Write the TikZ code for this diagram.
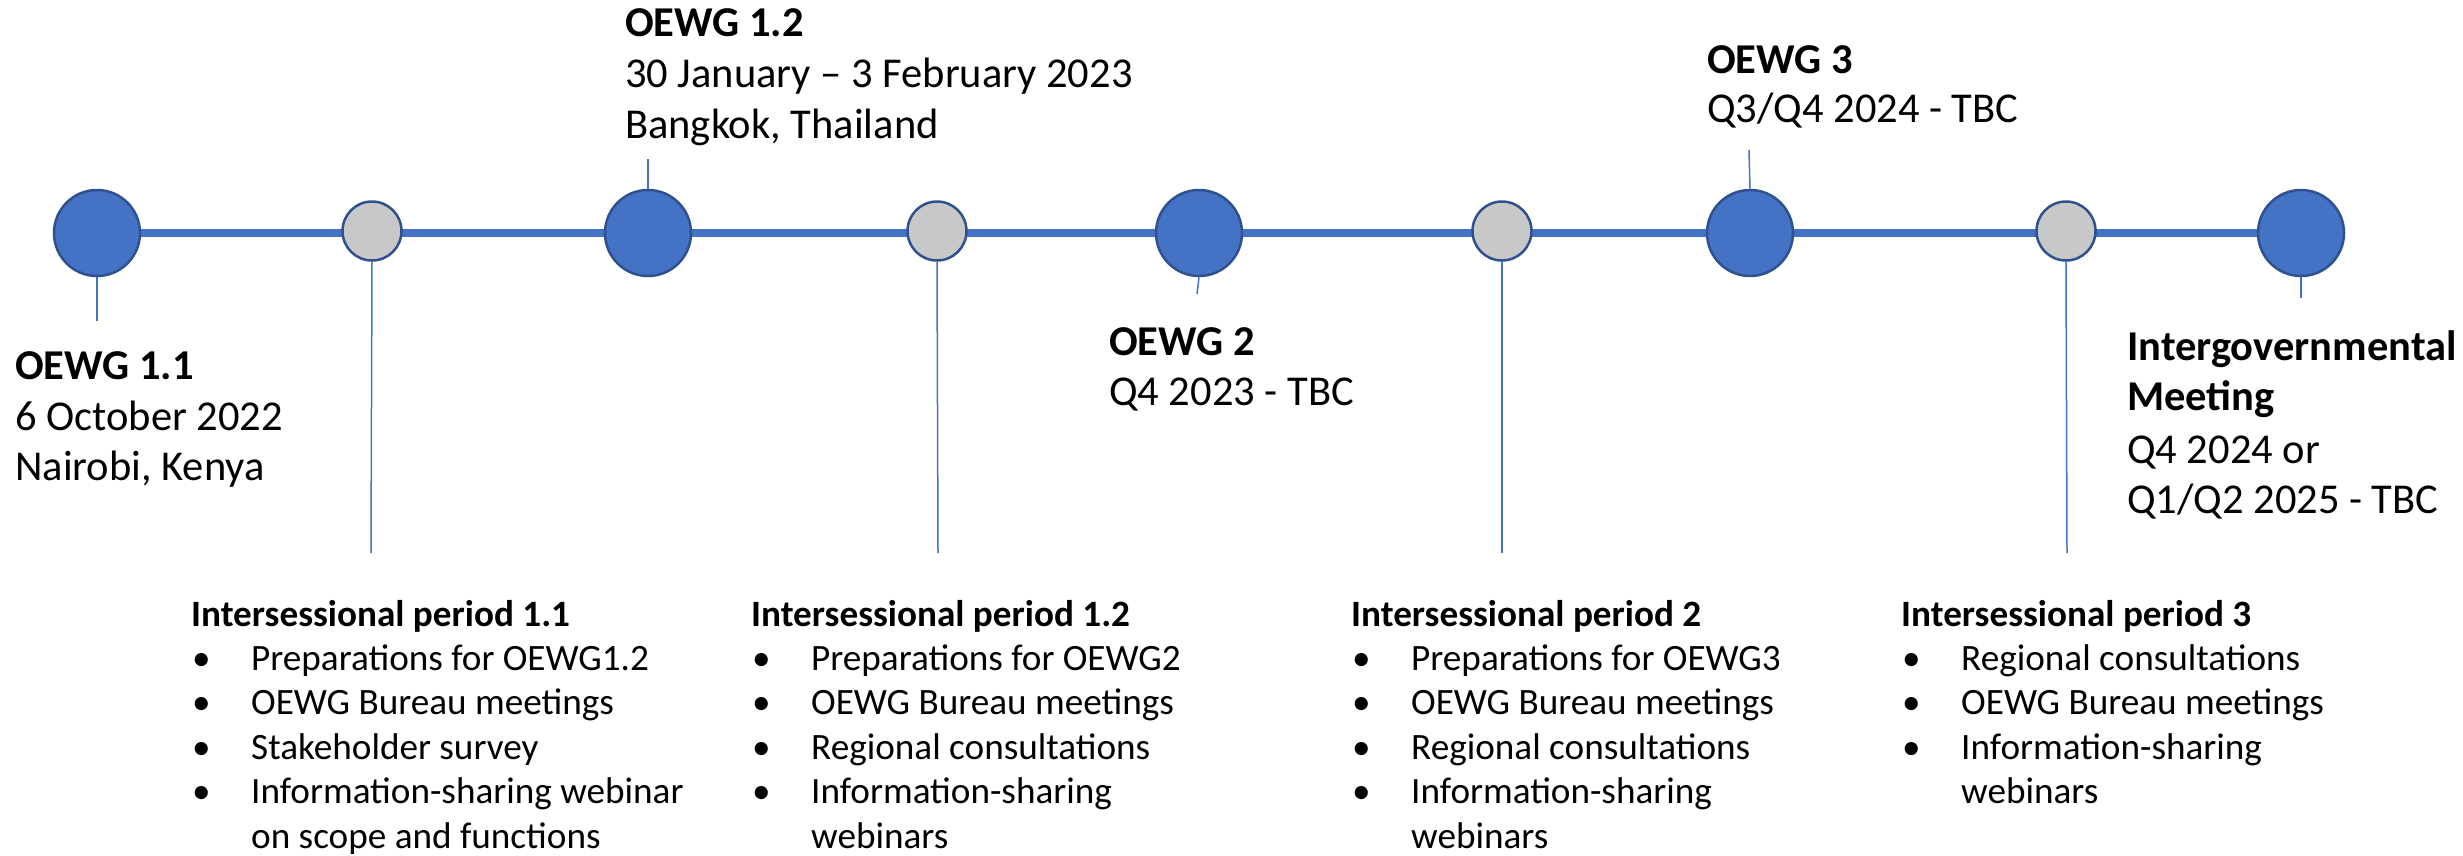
\documentclass[tikz,border=0pt]{standalone}
\usepackage{fontspec}
\setmainfont{Carlito}
\usetikzlibrary{backgrounds}
\definecolor{cblue}{HTML}{4472C4}
\definecolor{cdark}{HTML}{2F528F}
\definecolor{cgray}{HTML}{C8C8C8}
\begin{document}
\begin{tikzpicture}[x=1pt,y=-1pt,
  big/.style={circle,fill=cblue,draw=cdark,line width=2.5pt,minimum size=86pt,inner sep=0pt},
  small/.style={circle,fill=cgray,draw=cdark,line width=2.5pt,minimum size=59pt,inner sep=0pt},
  tick/.style={draw=cblue,line width=1.5pt},
  axis/.style={draw=cblue,line width=8pt},
  top/.style={anchor=base west,inner sep=0pt,font=\fontsize{42.5}{50}\selectfont},
  toph/.style={anchor=base west,inner sep=0pt,font=\fontsize{42.5}{50}\selectfont\bfseries},
  lst/.style={anchor=base west,inner sep=0pt,font=\fontsize{37.2}{45}\selectfont},
  lsth/.style={anchor=base west,inner sep=0pt,font=\fontsize{37.2}{45}\selectfont\bfseries}]
\useasboundingbox (0,0) rectangle (2463,855);

% milestones
\node[big]   (m1) at (97,233) {};
\node[small] (s1) at (372,231) {};
\node[big]   (m2) at (648,233) {};
\node[small] (s2) at (937,231) {};
\node[big]   (m3) at (1199,233) {};
\node[small] (s3) at (1502,231) {};
\node[big]   (m4) at (1750,233) {};
\node[small] (s4) at (2066,231) {};
\node[big]   (m5) at (2301,233) {};

\begin{scope}[on background layer]
  \draw[axis] (m1.center) -- (m5.center);
\end{scope}

% ticks
\coordinate (e1) at (97,321);
\coordinate (e2) at (648,159);
\coordinate (e3) at (1197,294);
\coordinate (e4) at (1749,150);
\coordinate (e5) at (2301,298);
\coordinate (f1) at (371,553);
\coordinate (f2) at (938,553);
\coordinate (f3) at (1502,553);
\coordinate (f4) at (2067,553);
\draw[tick] (m1.south) -- (e1);
\draw[tick] (m2.north) -- (e2);
\draw[tick] (m3.south) -- (e3);
\draw[tick] (m4.north) -- (e4);
\draw[tick] (m5.south) -- (e5);
\draw[tick] (s1.south) -- (f1);
\draw[tick] (s2.south) -- (f2);
\draw[tick] (s3.south) -- (f3);
\draw[tick] (s4.south) -- (f4);

% top / side labels
\node[toph] (a1) at (15,379) {OEWG 1.1};
\node[top]  (a2) at (15,430) {6 October 2022};
\node[top]  (a3) at (15,480) {Nairobi, Kenya};

\node[toph] (b1) at (625,36) {OEWG 1.2};
\node[top]  (b2) at (625,87) {30 January – 3 February 2023};
\node[top]  (b3) at (625,138) {Bangkok, Thailand};

\node[toph] (c1) at (1109,355) {OEWG 2};
\node[top]  (c2) at (1109,405) {Q4 2023 - TBC};

\node[toph] (d1) at (1707,73) {OEWG 3};
\node[top]  (d2) at (1707,122) {Q3/Q4 2024 - TBC};

\node[toph] (g1) at (2127,360) {Intergovernmental};
\node[toph] (g2) at (2127,410) {Meeting};
\node[top]  (g3) at (2127,463) {Q4 2024 or};
\node[top]  (g4) at (2127,513) {Q1/Q2 2025 - TBC};

% lists
\node[lsth] (p1) at (191,626) {Intersessional period 1.1};
\foreach \b/\t [count=\i] in {1/{Preparations for OEWG1.2},1/{OEWG Bureau meetings},1/{Stakeholder survey},1/{Information-sharing webinar},0/{on scope and functions}}{
  \node[lst] (p1i\i) at (251,626+44.4*\i) {\t};
  \ifnum\b=1 \node[lst] (p1b\i) at (192,626+44.4*\i) {\textbullet}; \fi
}
\node[lsth] (p2) at (751,626) {Intersessional period 1.2};
\foreach \b/\t [count=\i] in {1/{Preparations for OEWG2},1/{OEWG Bureau meetings},1/{Regional consultations},1/{Information-sharing},0/{webinars}}{
  \node[lst] (p2i\i) at (811,626+44.4*\i) {\t};
  \ifnum\b=1 \node[lst] (p2b\i) at (752,626+44.4*\i) {\textbullet}; \fi
}
\node[lsth] (p3) at (1351,626) {Intersessional period 2};
\foreach \b/\t [count=\i] in {1/{Preparations for OEWG3},1/{OEWG Bureau meetings},1/{Regional consultations},1/{Information-sharing},0/{webinars}}{
  \node[lst] (p3i\i) at (1411,626+44.4*\i) {\t};
  \ifnum\b=1 \node[lst] (p3b\i) at (1352,626+44.4*\i) {\textbullet}; \fi
}
\node[lsth] (p4) at (1901,626) {Intersessional period 3};
\foreach \b/\t [count=\i] in {1/{Regional consultations},1/{OEWG Bureau meetings},1/{Information-sharing},0/{webinars}}{
  \node[lst] (p4i\i) at (1961,626+44.4*\i) {\t};
  \ifnum\b=1 \node[lst] (p4b\i) at (1902,626+44.4*\i) {\textbullet}; \fi
}
\end{tikzpicture}
\end{document}
